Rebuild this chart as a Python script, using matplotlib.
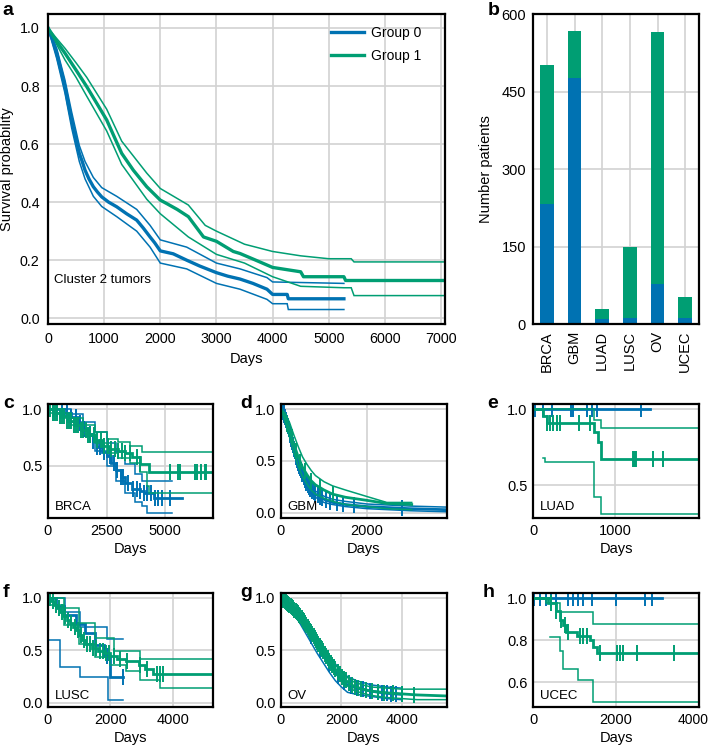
"""
Survival curves of cluster 2 tumors by group, with per-cancer breakdown.
"""

import numpy as np
import matplotlib

matplotlib.use("Agg")
import matplotlib.pyplot as plt
from matplotlib.transforms import ScaledTranslation

plt.rcParams["font.family"] = ["Liberation Sans", "DejaVu Sans"]
plt.rcParams["font.size"] = 10

BLUE = "#0072B2"
GREEN = "#009E73"
GRID = "#d2d2d2"

# ---- panel a: all cluster 2 tumors (estimate, upper CI, lower CI) ----
a_g0_t = [0, 80, 155, 230, 303, 360, 422, 490, 558, 610, 660, 730, 808, 880, 957,
          1080, 1224, 1400, 1580, 1700, 1818, 1900, 2000, 2230, 2470, 2700, 3000,
          3200, 3420, 3650, 3900, 4000, 4260, 4280, 5270]
a_g0_s = [1.0, 0.96, 0.913, 0.855, 0.798, 0.74, 0.683, 0.625, 0.568, 0.54, 0.51,
          0.48, 0.453, 0.435, 0.418, 0.40, 0.384, 0.36, 0.338, 0.31, 0.28, 0.26,
          0.232, 0.222, 0.20, 0.18, 0.157, 0.145, 0.135, 0.12, 0.10, 0.082, 0.082,
          0.067, 0.067]
a_g0_up_t = [0, 155, 303, 422, 558, 660, 808, 957, 1224, 1580, 1818, 2000, 2470,
             3000, 3420, 3900, 4000, 5270]
a_g0_up_s = [1.0, 0.93, 0.82, 0.71, 0.595, 0.54, 0.485, 0.45, 0.42, 0.375, 0.32,
             0.27, 0.245, 0.19, 0.17, 0.14, 0.125, 0.12]
a_g0_lo_t = [0, 155, 303, 422, 558, 660, 808, 957, 1224, 1580, 1818, 2000, 2470,
             3000, 3420, 3900, 4000, 4260, 4280, 5270]
a_g0_lo_s = [1.0, 0.895, 0.775, 0.655, 0.54, 0.48, 0.42, 0.385, 0.35, 0.30, 0.245,
             0.19, 0.17, 0.12, 0.10, 0.065, 0.05, 0.05, 0.03, 0.03]

a_g1_t = [0, 150, 303, 500, 690, 870, 1046, 1180, 1313, 1520, 1759, 2000, 2115,
          2300, 2500, 2770, 3000, 3300, 3420, 3700, 4000, 4500, 4550, 5270, 5300,
          7050]
a_g1_s = [1.0, 0.955, 0.913, 0.855, 0.798, 0.74, 0.683, 0.625, 0.568, 0.51, 0.453,
          0.407, 0.395, 0.375, 0.35, 0.28, 0.265, 0.23, 0.223, 0.20, 0.175, 0.16,
          0.143, 0.143, 0.13, 0.13]
a_g1_up_t = [0, 150, 303, 500, 690, 1046, 1313, 1759, 2000, 2500, 2800, 3000, 3500,
             4000, 4500, 5000, 5400, 5450, 7050]
a_g1_up_s = [1.0, 0.965, 0.93, 0.88, 0.83, 0.72, 0.61, 0.50, 0.447, 0.39, 0.32,
             0.30, 0.255, 0.23, 0.215, 0.205, 0.205, 0.194, 0.194]
a_g1_lo_t = [0, 150, 303, 500, 690, 1046, 1313, 1759, 2000, 2500, 3000, 3500, 4000,
             4500, 5270, 5400, 5450, 7050]
a_g1_lo_s = [1.0, 0.945, 0.89, 0.83, 0.765, 0.645, 0.53, 0.41, 0.36, 0.28, 0.22,
             0.19, 0.143, 0.11, 0.105, 0.105, 0.078, 0.078]

# ---- panel b: patients per cancer type ----
cancers = ["BRCA", "GBM", "LUAD", "LUSC", "OV", "UCEC"]
group0_counts = [232, 477, 10, 12, 78, 12]
group1_counts = [270, 90, 19, 138, 488, 41]

# ---- panels c-h: per cancer type ----
brca_g0_t = [0, 700, 1000, 1300, 1500, 1700, 1900, 2100, 2300, 2500, 2700, 2900,
             3100, 3300, 3600, 3900, 4100, 4500, 5700]
brca_g0_s = [1.0, 0.97, 0.93, 0.88, 0.83, 0.78, 0.72, 0.67, 0.62, 0.59, 0.53, 0.46,
             0.40, 0.35, 0.30, 0.28, 0.26, 0.215, 0.215]
brca_g0_up_t = [0, 1000, 1500, 2000, 2500, 2900, 3300, 3700, 4000, 5270]
brca_g0_up_s = [1.0, 0.96, 0.89, 0.80, 0.70, 0.62, 0.52, 0.43, 0.37, 0.37]
brca_g0_lo_t = [0, 700, 1000, 1500, 2000, 2500, 2900, 3300, 3700, 4000, 4200, 5270]
brca_g0_lo_s = [1.0, 0.94, 0.89, 0.76, 0.63, 0.50, 0.37, 0.26, 0.18, 0.15, 0.086,
                0.086]
brca_g0_cens = [200, 400, 600, 800, 1000, 1200, 1360, 1550, 1790, 1900, 2100, 2215,
                2400, 2640, 2800, 2925, 3100, 3210, 3400, 3636, 3800, 3920, 4100,
                4203, 4400, 4558, 4700, 4842, 5197]
brca_g1_t = [0, 200, 500, 800, 1100, 1400, 1700, 2000, 2300, 2600, 3000, 3300, 3600,
             3900, 4300, 7000]
brca_g1_s = [1.0, 0.97, 0.94, 0.90, 0.86, 0.82, 0.77, 0.73, 0.68, 0.65, 0.63, 0.61,
             0.58, 0.52, 0.45, 0.45]
brca_g1_up_t = [0, 500, 1000, 1500, 2000, 2500, 3000, 3500, 4000, 7000]
brca_g1_up_s = [1.0, 0.97, 0.92, 0.86, 0.80, 0.74, 0.71, 0.68, 0.62, 0.62]
brca_g1_lo_t = [0, 500, 1000, 1500, 2000, 2500, 3000, 3500, 3900, 4200, 4300, 7000]
brca_g1_lo_s = [0.97, 0.92, 0.86, 0.78, 0.70, 0.61, 0.57, 0.53, 0.45, 0.32, 0.26,
                0.26]
brca_g1_cens = [100, 200, 300, 400, 500, 600, 700, 800, 900, 1000, 1100, 1200, 1300,
                1400, 1500, 1600, 1700, 1800, 1950, 2100, 2250, 2400, 2550, 2700,
                2850, 3000, 3150, 3300, 3500, 3780, 3920, 5200, 5560, 5620, 6260,
                6330, 6540, 6680, 6750]

gbm_g0_t = [0, 50, 100, 150, 200, 250, 300, 350, 400, 450, 500, 600, 700, 800, 1000,
            1200, 1500, 2000, 2500, 3000, 3860]
gbm_g0_s = [1.0, 0.97, 0.92, 0.85, 0.78, 0.70, 0.62, 0.55, 0.48, 0.42, 0.37, 0.28,
            0.22, 0.18, 0.13, 0.10, 0.08, 0.06, 0.05, 0.04, 0.03]
gbm_g0_up_s = [1.0, 0.98, 0.94, 0.88, 0.81, 0.74, 0.66, 0.59, 0.52, 0.46, 0.41, 0.32,
               0.26, 0.21, 0.16, 0.13, 0.11, 0.085, 0.075, 0.065, 0.055]
gbm_g0_lo_s = [1.0, 0.95, 0.89, 0.82, 0.74, 0.66, 0.58, 0.51, 0.44, 0.38, 0.33, 0.25,
               0.19, 0.15, 0.10, 0.08, 0.06, 0.04, 0.03, 0.02, 0.01]
gbm_g0_cens = [20, 40, 60, 80, 100, 120, 140, 160, 180, 200, 220, 240, 260, 280,
               300, 320, 340, 360, 380, 400, 420, 440, 460, 480, 500, 530, 560, 590,
               620, 650, 680, 720, 760, 800, 850, 900, 960, 1050, 1150, 1300, 1450,
               1700, 2810]
gbm_g1_t = [0, 100, 200, 300, 400, 500, 600, 700, 800, 1000, 1200, 1500, 2000, 2460,
            3040]
gbm_g1_s = [1.0, 0.92, 0.80, 0.66, 0.54, 0.44, 0.37, 0.31, 0.27, 0.22, 0.18, 0.15,
            0.12, 0.09, 0.08]
gbm_g1_up_s = [1.0, 0.96, 0.87, 0.75, 0.64, 0.54, 0.47, 0.41, 0.36, 0.30, 0.26, 0.22,
               0.157, 0.10, 0.10]
gbm_g1_lo_s = [1.0, 0.87, 0.73, 0.58, 0.45, 0.35, 0.28, 0.22, 0.18, 0.14, 0.11, 0.08,
               0.06, 0.04, 0.03]
gbm_g1_cens = [150, 250, 350, 450, 550, 700, 900, 1200]

luad_g0_t = [0, 1427]
luad_g0_s = [1.0, 1.0]
luad_g0_cens = [20, 118, 228, 460, 492, 655, 716, 777, 1317]
luad_g1_t = [0, 118, 167, 736, 796, 825, 2020]
luad_g1_s = [1.0, 0.955, 0.906, 0.85, 0.785, 0.67, 0.67]
luad_g1_up_t = [0, 736, 825, 2020]
luad_g1_up_s = [1.0, 0.93, 0.873, 0.873]
luad_g1_lo_t = [118, 140, 736, 825, 2020]
luad_g1_lo_s = [0.68, 0.654, 0.42, 0.31, 0.31]
luad_g1_cens = [167, 207, 248, 289, 329, 561, 695, 1211, 1223, 1236, 1252, 1459,
                1581]

lusc_g0_t = [0, 250, 500, 900, 1200, 1500, 1800, 2000, 2400]
lusc_g0_s = [1.0, 0.917, 0.833, 0.75, 0.667, 0.55, 0.45, 0.25, 0.25]
lusc_g0_up_t = [0, 550, 1024, 1880, 2410]
lusc_g0_up_s = [1.0, 0.867, 0.724, 0.606, 0.606]
lusc_g0_lo_t = [0, 384, 1024, 1930, 2410]
lusc_g0_lo_s = [0.6, 0.343, 0.248, 0.025, 0.025]
lusc_g0_cens = [1900, 2400]
lusc_g1_t = [0, 100, 200, 300, 400, 500, 600, 700, 800, 900, 1000, 1100, 1200, 1400,
             1600, 1800, 2000, 2200, 2500, 2900, 3100, 3350, 5280]
lusc_g1_s = [1.0, 0.97, 0.93, 0.90, 0.86, 0.83, 0.79, 0.76, 0.72, 0.69, 0.65, 0.60,
             0.56, 0.52, 0.49, 0.47, 0.45, 0.42, 0.40, 0.36, 0.32, 0.27, 0.27]
lusc_g1_up_t = [0, 500, 1000, 1500, 2100, 2940, 5280]
lusc_g1_up_s = [1.0, 0.90, 0.76, 0.62, 0.49, 0.42, 0.42]
lusc_g1_lo_t = [0, 500, 1000, 1500, 2000, 2500, 2940, 3580, 5280]
lusc_g1_lo_s = [0.93, 0.74, 0.56, 0.44, 0.36, 0.30, 0.216, 0.137, 0.137]
lusc_g1_cens = [50, 150, 250, 350, 450, 550, 650, 750, 850, 950, 1050, 1150, 1250,
                1350, 1450, 1550, 1650, 1750, 1850, 1950, 2100, 2304, 2517, 2944,
                3157, 3477, 3584, 3690]

ov_g0_t = [0, 200, 400, 600, 800, 1000, 1200, 1400, 1600, 1800, 2000, 2200, 2500,
           3000, 3500, 3990]
ov_g0_s = [1.0, 0.95, 0.89, 0.82, 0.73, 0.64, 0.55, 0.46, 0.37, 0.29, 0.22, 0.17,
           0.14, 0.11, 0.09, 0.08]
ov_g0_up_s = [1.0, 0.97, 0.92, 0.86, 0.78, 0.70, 0.62, 0.54, 0.45, 0.37, 0.30, 0.25,
              0.21, 0.17, 0.15, 0.14]
ov_g0_lo_s = [1.0, 0.92, 0.85, 0.77, 0.67, 0.57, 0.47, 0.38, 0.29, 0.21, 0.15, 0.10,
              0.08, 0.06, 0.04, 0.03]
ov_g0_cens = [1000, 1300, 1600, 1900, 2100, 2300, 2500, 2700, 2940, 3200, 3350,
              3500, 3650, 3800, 3990]
ov_g1_t = [0, 200, 400, 600, 800, 1000, 1200, 1400, 1600, 1800, 2000, 2200, 2400,
           2700, 3000, 3500, 4000, 4500, 5490]
ov_g1_s = [1.0, 0.95, 0.90, 0.84, 0.76, 0.67, 0.58, 0.49, 0.40, 0.32, 0.25, 0.20,
           0.16, 0.13, 0.11, 0.095, 0.085, 0.075, 0.065]
ov_g1_up_s = [1.0, 0.97, 0.92, 0.87, 0.79, 0.71, 0.62, 0.53, 0.44, 0.36, 0.29, 0.24,
              0.20, 0.17, 0.15, 0.14, 0.13, 0.13, 0.13]
ov_g1_lo_s = [1.0, 0.94, 0.88, 0.81, 0.73, 0.63, 0.54, 0.45, 0.36, 0.28, 0.21, 0.16,
              0.12, 0.09, 0.07, 0.05, 0.04, 0.03, 0.03]
ov_g1_cens = [40, 80, 120, 160, 200, 240, 280, 320, 360, 400, 440, 480, 520, 560,
              600, 640, 680, 720, 760, 800, 840, 880, 920, 960, 1000, 1040, 1080,
              1120, 1160, 1200, 1240, 1280, 1320, 1360, 1400, 1450, 1500, 1550, 1600,
              1650, 1700, 1750, 1800, 1870, 1940, 2010, 2080, 2150, 2250, 2350, 2450,
              2550, 2650, 2800, 3000, 3200, 3400, 3700, 4000, 4400]

ucec_g0_t = [0, 3105]
ucec_g0_s = [1.0, 1.0]
ucec_g0_cens = [20, 161, 323, 444, 565, 847, 968, 1089, 1194, 1411, 1999, 2702, 2863]
ucec_g1_t = [0, 363, 565, 645, 726, 806, 1048, 1371, 1452, 1532, 3990]
ucec_g1_s = [1.0, 0.975, 0.94, 0.895, 0.87, 0.84, 0.82, 0.80, 0.77, 0.737, 0.737]
ucec_g1_up_t = [0, 323, 645, 1452, 3990]
ucec_g1_up_s = [1.0, 0.975, 0.935, 0.875, 0.875]
ucec_g1_lo_t = [403, 645, 726, 1089, 1452, 3990]
ucec_g1_lo_s = [0.816, 0.75, 0.665, 0.61, 0.506, 0.506]
ucec_g1_cens = [444, 565, 685, 766, 847, 1129, 1210, 1290, 1613, 2016, 2097, 2177,
                2500, 3387]


def style_axes(ax):
    for spine in ax.spines.values():
        spine.set_linewidth(1.6)
        spine.set_color("black")
    ax.grid(True, color=GRID, lw=1.2)
    ax.set_axisbelow(True)
    ax.tick_params(length=0, pad=4, labelsize=10.5)


def curve(ax, t, s, color, lw, step):
    ax.plot(t, s, color=color, lw=lw,
            drawstyle="steps-post" if step else "default",
            solid_joinstyle="miter")


def censor(ax, t, s, cens, color, step):
    t = np.asarray(t)
    s = np.asarray(s)
    if step:
        idx = np.searchsorted(t, cens, side="right") - 1
        y = s[idx]
    else:
        y = np.interp(cens, t, s)
    ax.plot(cens, y, ls="none", marker="|", ms=12, mew=1.4, color=color)


fig = plt.figure(figsize=(7.13, 7.48), dpi=100)

# panel a
ax_a = fig.add_axes([0.0673, 0.5668, 0.5568, 0.4144])
style_axes(ax_a)
ax_a.tick_params(labelsize=10.3, pad=6)
curve(ax_a, a_g0_up_t, a_g0_up_s, BLUE, 1.1, False)
curve(ax_a, a_g0_lo_t, a_g0_lo_s, BLUE, 1.1, False)
curve(ax_a, a_g1_up_t, a_g1_up_s, GREEN, 1.1, False)
curve(ax_a, a_g1_lo_t, a_g1_lo_s, GREEN, 1.1, False)
ax_a.plot(a_g0_t, a_g0_s, color=BLUE, lw=2.4, label="Group 0")
ax_a.plot(a_g1_t, a_g1_s, color=GREEN, lw=2.4, label="Group 1")
ax_a.set_xlim(0, 7070)
ax_a.set_ylim(-0.02, 1.048)
ax_a.set_xticks(range(0, 8000, 1000))
ax_a.set_yticks([0.0, 0.2, 0.4, 0.6, 0.8, 1.0])
ax_a.set_xlabel("Days", fontsize=10.5, labelpad=4)
ax_a.set_ylabel("Survival probability", fontsize=10.5, labelpad=4)
ax_a.text(0.016, 0.142, "Cluster 2 tumors", transform=ax_a.transAxes,
          fontsize=9.5, va="center")
ax_a.legend(loc="upper left", bbox_to_anchor=(0.695, 0.985), frameon=False,
            fontsize=10, handlelength=2.4, handletextpad=0.5,
            labelspacing=0.65, borderpad=0)

# panel b
ax_b = fig.add_axes([0.7476, 0.5668, 0.2328, 0.4144])
style_axes(ax_b)
ax_b.tick_params(labelsize=10.5, pad=5)
x = np.arange(len(cancers))
ax_b.bar(x, group0_counts, width=0.5, color=BLUE)
ax_b.bar(x, group1_counts, width=0.5, bottom=group0_counts, color=GREEN)
ax_b.set_xlim(-0.5, len(cancers) - 0.5)
ax_b.set_ylim(0, 600)
ax_b.set_yticks([0, 150, 300, 450, 600])
ax_b.set_xticks(x)
ax_b.set_xticklabels(cancers, rotation=90)
ax_b.set_ylabel("Number patients", fontsize=10.5, labelpad=6)

# panels c-h
small = [
    # name, rect, xlim, ylim, xticks, yticks, step, groups
    ("BRCA", [0.0673, 0.3075, 0.2314, 0.1524], 7030, (0.04, 1.047),
     [0, 2500, 5000], [0.5, 1.0], True,
     [(BLUE, brca_g0_t, brca_g0_s, brca_g0_up_t, brca_g0_up_s, brca_g0_lo_t,
       brca_g0_lo_s, brca_g0_cens),
      (GREEN, brca_g1_t, brca_g1_s, brca_g1_up_t, brca_g1_up_s, brca_g1_lo_t,
       brca_g1_lo_s, brca_g1_cens)]),
    ("GBM", [0.3941, 0.3075, 0.2328, 0.1524], 3860, (-0.05, 1.05),
     [0, 2000], [0.0, 0.5, 1.0], False,
     [(BLUE, gbm_g0_t, gbm_g0_s, gbm_g0_t, gbm_g0_up_s, gbm_g0_t, gbm_g0_lo_s,
       gbm_g0_cens),
      (GREEN, gbm_g1_t, gbm_g1_s, gbm_g1_t, gbm_g1_up_s, gbm_g1_t, gbm_g1_lo_s,
       gbm_g1_cens)]),
    ("LUAD", [0.7476, 0.3075, 0.2328, 0.1524], 2020, (0.283, 1.033),
     [0, 1000], [0.5, 1.0], True,
     [(BLUE, luad_g0_t, luad_g0_s, None, None, None, None, luad_g0_cens),
      (GREEN, luad_g1_t, luad_g1_s, luad_g1_up_t, luad_g1_up_s, luad_g1_lo_t,
       luad_g1_lo_s, luad_g1_cens)]),
    ("LUSC", [0.0673, 0.0548, 0.2314, 0.1528], 5280, (-0.04, 1.048),
     [0, 2000, 4000], [0.0, 0.5, 1.0], True,
     [(BLUE, lusc_g0_t, lusc_g0_s, lusc_g0_up_t, lusc_g0_up_s, lusc_g0_lo_t,
       lusc_g0_lo_s, lusc_g0_cens),
      (GREEN, lusc_g1_t, lusc_g1_s, lusc_g1_up_t, lusc_g1_up_s, lusc_g1_lo_t,
       lusc_g1_lo_s, lusc_g1_cens)]),
    ("OV", [0.3941, 0.0548, 0.2328, 0.1528], 5490, (-0.04, 1.048),
     [0, 2000, 4000], [0.0, 0.5, 1.0], False,
     [(BLUE, ov_g0_t, ov_g0_s, ov_g0_t, ov_g0_up_s, ov_g0_t, ov_g0_lo_s,
       ov_g0_cens),
      (GREEN, ov_g1_t, ov_g1_s, ov_g1_t, ov_g1_up_s, ov_g1_t, ov_g1_lo_s,
       ov_g1_cens)]),
    ("UCEC", [0.7476, 0.0548, 0.2328, 0.1528], 4000, (0.482, 1.026),
     [0, 2000, 4000], [0.6, 0.8, 1.0], True,
     [(BLUE, ucec_g0_t, ucec_g0_s, None, None, None, None, ucec_g0_cens),
      (GREEN, ucec_g1_t, ucec_g1_s, ucec_g1_up_t, ucec_g1_up_s, ucec_g1_lo_t,
       ucec_g1_lo_s, ucec_g1_cens)]),
]

for name, rect, xmax, ylim, xticks, yticks, step, groups in small:
    ax = fig.add_axes(rect)
    style_axes(ax)
    for color, t, s, ut, us, lt, ls_, cens in groups:
        if ut is not None:
            curve(ax, ut, us, color, 1.1, step)
            curve(ax, lt, ls_, color, 1.1, step)
        curve(ax, t, s, color, 2.0, step)
        censor(ax, t, s, cens, color, step)
    ax.set_xlim(0, xmax)
    ax.set_ylim(*ylim)
    ax.set_xticks(xticks)
    ax.set_yticks(yticks)
    ax.set_xlabel("Days", fontsize=10.5, labelpad=3)
    ax.text(0.04, 0.04, name, transform=ax.transAxes, fontsize=9.5,
            va="bottom", ha="left")
    if name == "UCEC":
        # last tick label sits at the figure edge, nudge it inwards a little
        last = ax.get_xticklabels()[-1]
        last.set_fontsize(10)
        last.set_transform(last.get_transform()
                           + ScaledTranslation(-4 / 72, 0, fig.dpi_scale_trans))

# panel letters (figure fraction, baseline)
letters = [("a", 0.004, 0.980), ("b", 0.684, 0.980),
           ("c", 0.004, 0.4545), ("d", 0.3366, 0.4545), ("e", 0.684, 0.4545),
           ("f", 0.004, 0.2019), ("g", 0.3366, 0.2019), ("h", 0.677, 0.2019)]
for letter, lx, ly in letters:
    fig.text(lx, ly, letter, fontsize=14, fontweight="bold",
             va="baseline", ha="left")

fig.savefig("out.png", dpi=100)
